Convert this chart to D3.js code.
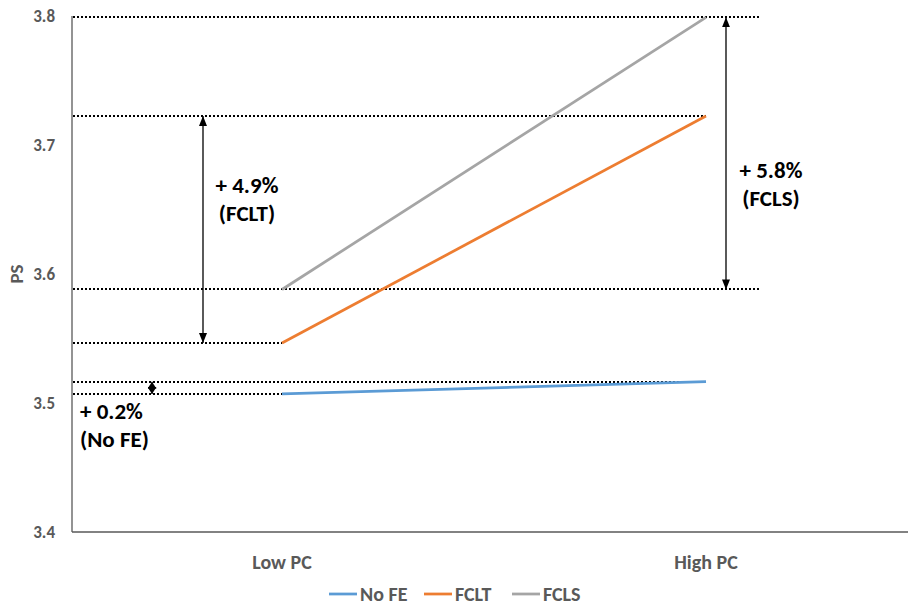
<!DOCTYPE html>
<html>
<head>
<meta charset="utf-8">
<script src="https://cdn.jsdelivr.net/npm/d3@7"></script>
<style>
  body { margin: 0; background: #fff; }
  text { font-family: Calibri, Carlito, "Open Sans", "Noto Sans", sans-serif; }
</style>
</head>
<body>
<script>
//chart values
var categories = ["Low PC", "High PC"];
var seriesNames = ["No FE", "FCLT", "FCLS"];
var noFE = [3.507, 3.5165];
var fclt = [3.5465, 3.7225];
var fcls = [3.588, 3.799];
var yTicks = [3.4, 3.5, 3.6, 3.7, 3.8];
var colors = ["#5B9BD5", "#ED7D31", "#A5A5A5"];

//annotation labels
var labels = [
  {lines: ["+ 4.9%", "(FCLT)"]},
  {lines: ["+ 5.8%", "(FCLS)"]},
  {lines: ["+ 0.2%", "(No FE)"]}
];

var width = 910, height = 610;
var plotLeft = 72, plotTop = 16, plotBottom = 532;

var svg = d3.select("body").append("svg")
  .attr("width", width)
  .attr("height", height);

var defs = svg.append("defs");
defs.append("marker")
  .attr("id", "arrow")
  .attr("viewBox", "0 0 10 10")
  .attr("refX", 10).attr("refY", 5)
  .attr("markerWidth", 10).attr("markerHeight", 10)
  .attr("markerUnits", "userSpaceOnUse")
  .attr("orient", "auto-start-reverse")
  .append("path")
  .attr("d", "M0,1 L10,5 L0,9 Z")
  .attr("fill", "#000");
defs.append("marker")
  .attr("id", "arrowSmall")
  .attr("viewBox", "0 0 10 10")
  .attr("refX", 10).attr("refY", 5)
  .attr("markerWidth", 7).attr("markerHeight", 9)
  .attr("markerUnits", "userSpaceOnUse")
  .attr("orient", "auto-start-reverse")
  .attr("preserveAspectRatio", "none")
  .append("path")
  .attr("d", "M0,0 L10,5 L0,10 Z")
  .attr("fill", "#000");

//scales
var x = d3.scalePoint()
  .domain(categories)
  .range([282, 706]);

var y = d3.scaleLinear()
  .domain([3.4, 3.8])
  .range([plotBottom, plotTop]);

//axes lines
svg.append("line")
  .attr("x1", plotLeft).attr("x2", plotLeft)
  .attr("y1", plotTop).attr("y2", plotBottom)
  .attr("stroke", "#595959").attr("stroke-width", 1.3);
svg.append("line")
  .attr("x1", plotLeft).attr("x2", 908)
  .attr("y1", plotBottom).attr("y2", plotBottom)
  .attr("stroke", "#595959").attr("stroke-width", 1.3);

//y tick labels
svg.selectAll(".ytick")
  .data(yTicks)
  .enter().append("text")
  .attr("class", "ytick")
  .attr("x", 55)
  .attr("y", function(d){ return y(d); })
  .attr("dy", "0.35em")
  .attr("text-anchor", "end")
  .attr("font-size", 17)
  .attr("font-weight", "bold")
  .attr("fill", "#595959")
  .text(function(d){ return d.toFixed(1); });

//y axis title
svg.append("text")
  .attr("transform", "translate(23," + y(3.6) + ") rotate(-90)")
  .attr("text-anchor", "middle")
  .attr("font-size", 19)
  .attr("font-weight", "bold")
  .attr("fill", "#595959")
  .text("PS");

//x tick labels
svg.selectAll(".xtick")
  .data(categories)
  .enter().append("text")
  .attr("class", "xtick")
  .attr("x", function(d){ return x(d); })
  .attr("y", 569)
  .attr("text-anchor", "middle")
  .attr("font-size", 20)
  .attr("font-weight", "bold")
  .attr("fill", "#595959")
  .text(function(d){ return d; });

//dotted reference lines
var refLines = [
  {v: fcls[1], x2: 760},
  {v: fclt[1], x2: x(categories[1])},
  {v: fcls[0], x2: 760},
  {v: fclt[0], x2: x(categories[0])},
  {v: noFE[1], x2: x(categories[1])},
  {v: noFE[0], x2: x(categories[0])}
];
svg.selectAll(".ref")
  .data(refLines)
  .enter().append("line")
  .attr("class", "ref")
  .attr("x1", plotLeft + 1)
  .attr("x2", function(d){ return d.x2; })
  .attr("y1", function(d){ return Math.round(y(d.v)); })
  .attr("y2", function(d){ return Math.round(y(d.v)); })
  .attr("stroke", "#000")
  .attr("stroke-width", 2)
  .attr("stroke-dasharray", "2,2");

//series lines
var series = [noFE, fclt, fcls];
var line = d3.line()
  .x(function(d, i){ return x(categories[i]); })
  .y(function(d){ return y(d); });

svg.selectAll(".series")
  .data(series)
  .enter().append("path")
  .attr("class", "series")
  .attr("d", line)
  .attr("fill", "none")
  .attr("stroke", function(d, i){ return colors[i]; })
  .attr("stroke-width", 2.75);

//double arrows
var arrows = [
  {x: 203, a: fclt[1], b: fclt[0], m: "arrow"},
  {x: 726, a: fcls[1], b: fcls[0], m: "arrow"},
  {x: 152, a: noFE[1], b: noFE[0], m: "arrowSmall"}
];
svg.selectAll(".arrow")
  .data(arrows)
  .enter().append("line")
  .attr("class", "arrow")
  .attr("x1", function(d){ return d.x; })
  .attr("x2", function(d){ return d.x; })
  .attr("y1", function(d){ return y(d.a); })
  .attr("y2", function(d){ return y(d.b); })
  .attr("stroke", "#000")
  .attr("stroke-width", 1.3)
  .attr("marker-start", function(d){ return "url(#" + d.m + ")"; })
  .attr("marker-end", function(d){ return "url(#" + d.m + ")"; });

//annotation text
var labelPos = [
  {x: 247, y: 193, anchor: "middle"},
  {x: 771, y: 178, anchor: "middle"},
  {x: 80, y: 419, anchor: "start"}
];
labels.forEach(function(l, i){
  var t = svg.append("text")
    .attr("x", labelPos[i].x)
    .attr("y", labelPos[i].y)
    .attr("text-anchor", labelPos[i].anchor)
    .attr("font-size", 23)
    .attr("font-weight", "bold")
    .attr("fill", "#000");
  l.lines.forEach(function(s, j){
    t.append("tspan")
      .attr("x", labelPos[i].x)
      .attr("dy", j === 0 ? 0 : 28)
      .text(s);
  });
});

//legend
var legendX = [329, 424, 512];
var legend = svg.selectAll(".legend")
  .data(seriesNames)
  .enter().append("g")
  .attr("class", "legend")
  .attr("transform", function(d, i){ return "translate(" + legendX[i] + ",594)"; });
legend.append("line")
  .attr("x1", 0).attr("x2", 28)
  .attr("stroke", function(d, i){ return colors[i]; })
  .attr("stroke-width", 2.75);
legend.append("text")
  .attr("x", 31)
  .attr("dy", "0.35em")
  .attr("font-size", 20)
  .attr("font-weight", "bold")
  .attr("fill", "#595959")
  .text(function(d){ return d; });
</script>
</body>
</html>
